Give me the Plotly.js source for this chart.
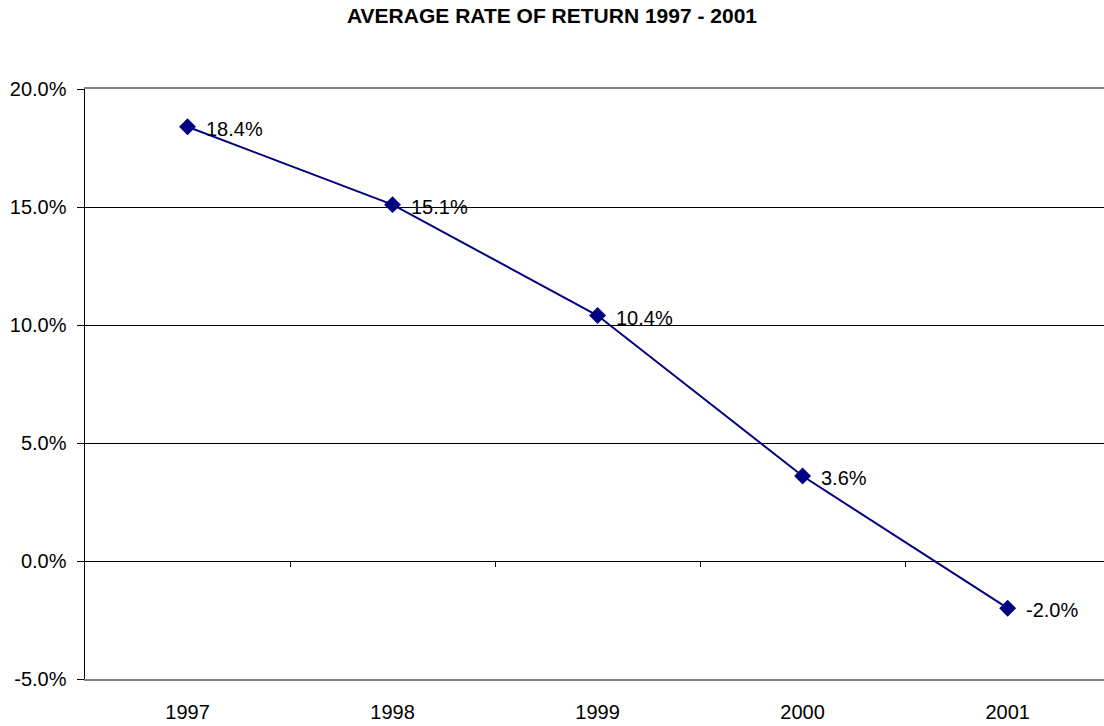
<!DOCTYPE html>
<html>
<head>
<meta charset="utf-8">
<script src="https://cdn.plot.ly/plotly-3.0.1.min.js"></script>
<style>
  html, body { margin: 0; padding: 0; background: #fff; }
  #graphDiv { width: 1104px; height: 726px; }
</style>
</head>
<body>
<div id="graphDiv"></div>
<script>
// Average rate of return per year
var years = ["1997", "1998", "1999", "2000", "2001"];
var returns = [0.184, 0.151, 0.104, 0.036, -0.020];
var returnLabels = ["18.4%", "15.1%", "10.4%", "3.6%", "-2.0%"];
var yTicks = [-0.05, 0, 0.05, 0.10, 0.15, 0.20];
var yTickText = ["-5.0%", "0.0%", "5.0%", "10.0%", "15.0%", "20.0%"];

var xPos = years.map((y, i) => i);
var boundaries = [0.5, 1.5, 2.5, 3.5];

var fontFamily = "Liberation Sans, Arial, sans-serif";

var trace1 = {
    x: xPos,
    y: returns,
    mode: "lines+markers",
    type: "scatter",
    line: { color: "#000080", width: 2 },
    marker: { symbol: "diamond", size: 13, color: "#000080" },
    cliponaxis: false,
    hoverinfo: "none"
};

// dummy trace so the zero-line axis (tick marks between years) is drawn
var trace2 = {
    x: boundaries,
    y: boundaries.map(() => 0),
    xaxis: "x2",
    mode: "markers",
    marker: { opacity: 0 },
    hoverinfo: "none"
};

// value labels to the right of each point
var labels = xPos.map((x, i) => ({
    x: x,
    y: returns[i],
    text: returnLabels[i],
    showarrow: false,
    xanchor: "left",
    yanchor: "middle",
    xshift: 16,
    yshift: -2,
    font: { family: fontFamily, size: 20, color: "#000" }
}));

var axisFont = { family: fontFamily, size: 20, color: "#000" };

var layout = {
    width: 1104,
    height: 726,
    margin: { l: 85, r: 0, t: 89, b: 47 },
    paper_bgcolor: "#fff",
    plot_bgcolor: "#fff",
    showlegend: false,
    annotations: labels,
    title: {
        text: "<b>AVERAGE RATE OF RETURN 1997 - 2001</b>",
        font: { family: fontFamily, size: 21, color: "#000" },
        x: 0.5,
        xanchor: "center",
        y: 0.978,
        yanchor: "middle"
    },
    xaxis: {
        range: [-0.5, 4.47],
        tickvals: xPos,
        ticktext: years,
        ticks: "",
        showgrid: false,
        zeroline: false,
        showline: true,
        mirror: true,
        linecolor: "#808080",
        linewidth: 2,
        tickfont: axisFont,
        ticklabelstandoff: 14
    },
    xaxis2: {
        overlaying: "x",
        matches: "x",
        anchor: "free",
        position: 0.2,
        side: "bottom",
        tickvals: boundaries,
        ticks: "outside",
        ticklen: 5,
        tickcolor: "#000",
        showticklabels: false,
        showgrid: false,
        zeroline: false,
        showline: false
    },
    yaxis: {
        range: [-0.05, 0.20],
        tickvals: yTicks,
        ticktext: yTickText,
        ticks: "outside",
        ticklen: 7,
        tickcolor: "#000",
        showgrid: true,
        gridcolor: "#000",
        gridwidth: 1,
        zeroline: true,
        zerolinecolor: "#000",
        zerolinewidth: 1,
        showline: true,
        linecolor: "#000",
        linewidth: 1.5,
        tickfont: axisFont,
        ticklabelstandoff: 6
    }
};

graphDiv = document.getElementById("graphDiv");
Plotly.newPlot(graphDiv, [trace1, trace2], layout, { staticPlot: true });
</script>
</body>
</html>
